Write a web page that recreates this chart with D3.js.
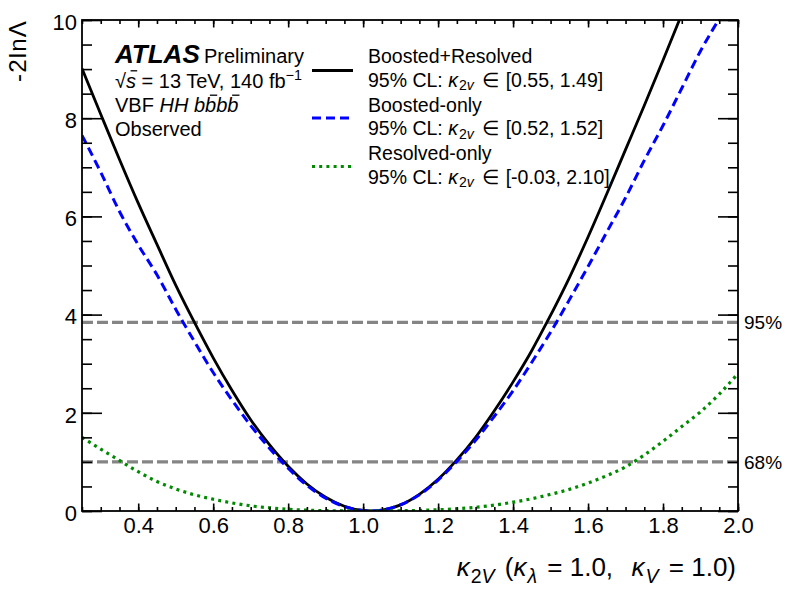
<!DOCTYPE html>
<html>
<head>
<meta charset="utf-8">
<script src="https://cdn.jsdelivr.net/npm/d3@7"></script>
<style>
  body { margin: 0; background: #ffffff; }
  svg { display: block; font-family: "Liberation Sans", Arial, Helvetica, sans-serif; }
  text { white-space: pre; }
</style>
</head>
<body>
<svg id="chart" width="794" height="591"></svg>
<script>
// -2 ln(Lambda) likelihood scans versus kappa_2V, one pair of arrays per channel
const combinedK   = [0.25, 0.30, 0.35, 0.40, 0.45, 0.50, 0.55, 0.60, 0.65, 0.70, 0.75, 0.80, 0.85, 0.90, 0.95, 1.00, 1.02, 1.05, 1.10, 1.15, 1.20, 1.25, 1.30, 1.35, 1.40, 1.45, 1.49, 1.55, 1.60, 1.65, 1.70, 1.75, 1.80, 1.85];
const combinedNLL = [9.01, 8.08, 7.16, 6.27, 5.43, 4.60, 3.84, 3.12, 2.46, 1.86, 1.35, 0.91, 0.55, 0.28, 0.096, 0.01, 0.0, 0.018, 0.125, 0.34, 0.645, 1.04, 1.50, 2.04, 2.63, 3.27, 3.84, 4.75, 5.58, 6.46, 7.36, 8.26, 9.18, 10.12];

const boostedK    = [0.25, 0.30, 0.35, 0.40, 0.45, 0.50, 0.52, 0.55, 0.60, 0.65, 0.70, 0.75, 0.80, 0.85, 0.90, 0.95, 1.00, 1.02, 1.05, 1.10, 1.15, 1.20, 1.25, 1.30, 1.35, 1.40, 1.45, 1.50, 1.55, 1.60, 1.65, 1.70, 1.75, 1.80, 1.85, 1.90, 1.95, 2.00];
const boostedNLL  = [7.65, 6.90, 6.10, 5.42, 4.81, 4.11, 3.84, 3.45, 2.82, 2.26, 1.74, 1.28, 0.87, 0.52, 0.26, 0.09, 0.01, 0.0, 0.018, 0.127, 0.33, 0.63, 1.01, 1.44, 1.93, 2.45, 3.03, 3.64, 4.30, 4.98, 5.68, 6.38, 7.14, 7.85, 8.61, 9.37, 10.03, 10.7];

const resolvedK   = [0.25, 0.30, 0.35, 0.40, 0.45, 0.50, 0.55, 0.60, 0.65, 0.70, 0.75, 0.80, 0.85, 0.90, 0.95, 1.00, 1.05, 1.10, 1.15, 1.20, 1.25, 1.30, 1.35, 1.40, 1.45, 1.50, 1.55, 1.60, 1.65, 1.70, 1.75, 1.80, 1.85, 1.90, 1.95, 2.00];
const resolvedNLL = [1.50, 1.26, 1.03, 0.80, 0.60, 0.45, 0.33, 0.24, 0.165, 0.105, 0.065, 0.035, 0.017, 0.007, 0.002, 0.0, 0.0, 0.004, 0.012, 0.025, 0.045, 0.075, 0.12, 0.18, 0.25, 0.34, 0.44, 0.57, 0.72, 0.90, 1.14, 1.42, 1.72, 2.02, 2.38, 2.80];

// axis ticks
const xMajorTicks = [0.4, 0.6, 0.8, 1.0, 1.2, 1.4, 1.6, 1.8, 2.0];
const yMajorTicks = [0, 2, 4, 6, 8, 10];

// confidence-level reference lines
const clValues = [1.0, 3.84];
const clLabels = ["68%", "95%"];

// legend entries
const seriesNames = ["Boosted+Resolved", "Boosted-only", "Resolved-only"];
const seriesIntervals = ["[0.55, 1.49]", "[0.52, 1.52]", "[-0.03, 2.10]"];

const plot = { left: 82, right: 738, top: 20, bottom: 511 };

const svg = d3.select("#chart");

const x = d3.scaleLinear().domain([0.25, 2.0]).range([plot.left, plot.right]);
const y = d3.scaleLinear().domain([0, 10]).range([plot.bottom, plot.top]);

const xMinorTicks = d3.range(0.25, 2.0001, 0.05).map(v => +v.toFixed(2));
const yMinorTicks = d3.range(0, 10.0001, 0.5);

const styles = [
  { color: "#000000", width: 2.8, dash: null },
  { color: "#0000ff", width: 3.0, dash: "9,5" },
  { color: "#008a00", width: 3.2, dash: "3,4.2" }
];

// ---- CL reference lines (under the curves) ----
svg.append("clipPath").attr("id", "plotclip")
  .append("rect")
  .attr("x", plot.left).attr("y", plot.top)
  .attr("width", plot.right - plot.left).attr("height", plot.bottom - plot.top);

const gLines = svg.append("g").attr("clip-path", "url(#plotclip)");

gLines.selectAll("line.cl").data(clValues).join("line")
  .attr("class", "cl")
  .attr("x1", plot.left).attr("x2", plot.right)
  .attr("y1", d => y(d)).attr("y2", d => y(d))
  .attr("stroke", "#858585").attr("stroke-width", 3.2)
  .attr("stroke-dasharray", "11,4");

svg.selectAll("text.cl").data(clValues).join("text")
  .attr("class", "cl")
  .attr("x", plot.right + 6).attr("y", d => y(d))
  .attr("dy", "0.36em")
  .attr("font-size", 19)
  .text((d, i) => clLabels[i]);

// ---- likelihood curves ----
const line = d3.line().x(d => x(d[0])).y(d => y(d[1])).curve(d3.curveMonotoneX);
const series = [
  d3.zip(combinedK, combinedNLL),
  d3.zip(boostedK, boostedNLL),
  d3.zip(resolvedK, resolvedNLL)
];

series.forEach((pts, i) => {
  const s = styles[i];
  gLines.append("path")
    .datum(pts)
    .attr("d", line)
    .attr("fill", "none")
    .attr("stroke", s.color)
    .attr("stroke-width", s.width)
    .attr("stroke-dasharray", s.dash);
});

// ---- axes ----
function styleAxis(g) {
  g.attr("font-family", null).attr("font-size", null);
  g.select(".domain").remove();
  g.selectAll(".tick line").attr("stroke", "#000").attr("stroke-width", 1.6);
}

// bottom
svg.append("g").attr("transform", `translate(0,${plot.bottom})`)
  .call(d3.axisBottom(x).tickValues(xMinorTicks).tickSizeInner(-4).tickSizeOuter(0).tickFormat(""))
  .call(styleAxis);
svg.append("g").attr("transform", `translate(0,${plot.bottom})`)
  .call(d3.axisBottom(x).tickValues(xMajorTicks).tickSizeInner(-7.5).tickSizeOuter(0)
        .tickPadding(6.5).tickFormat(d3.format(".1f")))
  .call(styleAxis)
  .call(g => g.selectAll("text").attr("font-size", 22).attr("fill", "#000"));

// top
svg.append("g").attr("transform", `translate(0,${plot.top})`)
  .call(d3.axisTop(x).tickValues(xMinorTicks).tickSizeInner(-4).tickSizeOuter(0).tickFormat(""))
  .call(styleAxis);
svg.append("g").attr("transform", `translate(0,${plot.top})`)
  .call(d3.axisTop(x).tickValues(xMajorTicks).tickSizeInner(-7.5).tickSizeOuter(0).tickFormat(""))
  .call(styleAxis);

// left
svg.append("g").attr("transform", `translate(${plot.left},0)`)
  .call(d3.axisLeft(y).tickValues(yMinorTicks).tickSizeInner(-10).tickSizeOuter(0).tickFormat(""))
  .call(styleAxis);
svg.append("g").attr("transform", `translate(${plot.left},0)`)
  .call(d3.axisLeft(y).tickValues(yMajorTicks).tickSizeInner(-20).tickSizeOuter(0)
        .tickPadding(5).tickFormat(d3.format("d")))
  .call(styleAxis)
  .call(g => g.selectAll("text").attr("font-size", 22).attr("dy", "0.42em").attr("fill", "#000"));

// right
svg.append("g").attr("transform", `translate(${plot.right},0)`)
  .call(d3.axisRight(y).tickValues(yMinorTicks).tickSizeInner(-10).tickSizeOuter(0).tickFormat(""))
  .call(styleAxis);
svg.append("g").attr("transform", `translate(${plot.right},0)`)
  .call(d3.axisRight(y).tickValues(yMajorTicks).tickSizeInner(-20).tickSizeOuter(0).tickFormat(""))
  .call(styleAxis);

// frame
svg.append("rect")
  .attr("x", plot.left).attr("y", plot.top)
  .attr("width", plot.right - plot.left).attr("height", plot.bottom - plot.top)
  .attr("fill", "none").attr("stroke", "#000").attr("stroke-width", 1.8);

// ---- rich text helper: segments with italic / bold / sub / sup / overbar ----
function richText(parent, px, py, segs, size, subShift = 0.28) {
  const t = parent.append("text").attr("x", px).attr("y", py).attr("font-size", size).attr("fill", "#000");
  let shift = 0;
  segs.forEach(s => {
    const sp = t.append("tspan").text(s.t);
    const target = s.sub ? subShift * size : (s.sup ? -0.42 * size : 0);
    if (target !== shift) sp.attr("dy", target - shift);
    shift = target;
    if (s.sub || s.sup) sp.attr("font-size", size * (s.scale || 0.72));
    if (s.i) sp.attr("font-style", "italic");
    if (s.b) sp.attr("font-weight", "bold");
    if (s.dx) sp.attr("dx", s.dx);
  });
  // overbars on flagged segments
  const node = t.node();
  let idx = 0;
  segs.forEach(s => {
    if (s.bar) {
      for (let k = 0; k < s.t.length; k++) {
        const e = node.getExtentOfChar(idx + k);
        const slant = s.i ? 0.12 * size : 0;
        const yb = py - (s.barH || 0.8) * size;
        parent.append("line")
          .attr("x1", e.x + e.width * 0.22 + slant).attr("x2", e.x + e.width * 0.88 + slant)
          .attr("y1", yb).attr("y2", yb)
          .attr("stroke", "#000").attr("stroke-width", 1.3);
      }
    }
    idx += s.t.length;
  });
  return t;
}

// ---- axis titles ----
richText(svg, 736, 576, [
  { t: "κ", i: true },
  { t: "2", sub: true, scale: 0.75, dx: 1 },
  { t: "V", sub: true, i: true, scale: 0.75 },
  { t: " (", dx: 3 },
  { t: "κ", i: true },
  { t: "λ", sub: true, i: true, scale: 0.75, dx: 1 },
  { t: " = 1.0,  ", dx: 3 },
  { t: "κ", i: true, dx: 4 },
  { t: "V", sub: true, i: true, scale: 0.75, dx: 1 },
  { t: " = 1.0)", dx: 3 }
], 26).attr("text-anchor", "end");

svg.append("text")
  .attr("transform", "translate(26,20) rotate(-90)")
  .attr("text-anchor", "end")
  .attr("font-size", 24)
  .attr("letter-spacing", 1.2)
  .attr("fill", "#000")
  .text("-2lnΛ");

// ---- ATLAS label block ----
const lab = svg.append("g");
richText(lab, 115, 63, [{ t: "ATLAS", b: true, i: true }], 26);
richText(lab, 204, 63, [{ t: "Preliminary" }], 20);
richText(lab, 115, 88, [
  { t: "√" },
  { t: "s", i: true, bar: true, barH: 0.86 },
  { t: " = 13 TeV, 140 fb" },
  { t: "−1", sup: true }
], 20);
richText(lab, 115, 112, [
  { t: "VBF " },
  { t: "HH b", i: true },
  { t: "b", i: true, bar: true, barH: 0.84 },
  { t: "b", i: true },
  { t: "b", i: true, bar: true, barH: 0.84 }
], 20);
richText(lab, 115, 136, [{ t: "Observed" }], 20);

// ---- legend ----
const leg = svg.append("g");
const legRowY = [63, 111.5, 160];
const legSampleY = [70.5, 118, 166.5];
seriesNames.forEach((name, i) => {
  const s = styles[i];
  leg.append("line")
    .attr("x1", 312).attr("x2", 353)
    .attr("y1", legSampleY[i]).attr("y2", legSampleY[i])
    .attr("stroke", s.color).attr("stroke-width", s.width)
    .attr("stroke-dasharray", s.dash);
  richText(leg, 368, legRowY[i], [{ t: name }], 19.5);
  richText(leg, 368, legRowY[i] + 23.5, [
    { t: "95% CL: " },
    { t: "κ", i: true },
    { t: "2", sub: true, dx: 1 },
    { t: "v", sub: true, i: true },
    { t: " ∈ ", dx: 3 },
    { t: seriesIntervals[i], dx: 1 }
  ], 19.5, 0.2);
});
</script>
</body>
</html>
